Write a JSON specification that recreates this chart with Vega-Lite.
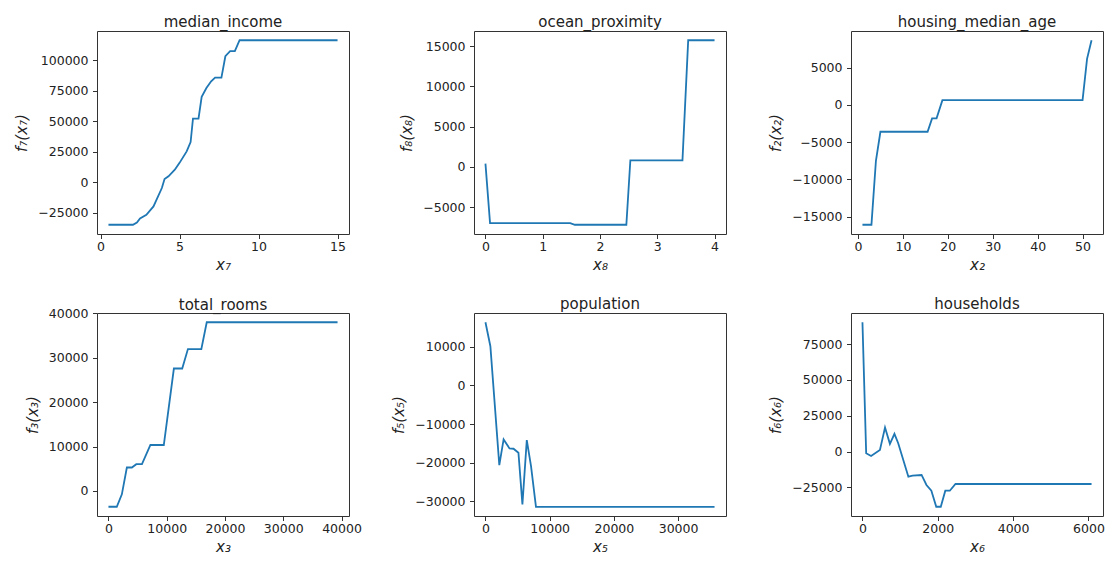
{
  "$schema": "https://vega.github.io/schema/vega-lite/v6.json",
  "padding": {"left": 14, "top": 14, "right": 2, "bottom": 2},
  "background": "white",
  "config": {
    "view": {"stroke": "#333", "strokeWidth": 1},
    "axis": {"grid": false, "domain": false, "tickColor": "#333", "tickSize": 4.5, "tickWidth": 1,
      "labelFont": "DejaVu Sans", "labelFontSize": 12.5, "labelColor": "#222", "labelPadding": 4.5,
      "labelFlush": false, "labelOverlap": false, "format": "d",
      "titleFont": "DejaVu Sans", "titleFontSize": 15, "titleFontStyle": "italic", "titleFontWeight": "normal", "titleColor": "#222"},
    "axisX": {"labelPadding": 2, "titlePadding": 4},
    "axisY": {"titlePadding": 8},
    "title": {"font": "DejaVu Sans", "fontSize": 15, "fontWeight": "normal", "color": "#222", "offset": 1, "anchor": "middle"},
    "line": {"color": "#1f77b4", "strokeWidth": 1.8}
  },
  "columns": 3,
  "spacing": {"row": 79, "column": 125},
  "bounds": "flush",
  "datasets": {
    "median_income": [
      {"x": 0.5, "y": -34700}, {"x": 2.05, "y": -34700}, {"x": 2.3, "y": -32800}, {"x": 2.5, "y": -29500},
      {"x": 2.9, "y": -26500}, {"x": 3.35, "y": -19700}, {"x": 3.88, "y": -4600}, {"x": 4.05, "y": 2700},
      {"x": 4.3, "y": 5000}, {"x": 4.7, "y": 10400}, {"x": 5.0, "y": 16000}, {"x": 5.45, "y": 25400},
      {"x": 5.7, "y": 33000}, {"x": 5.85, "y": 52200}, {"x": 6.2, "y": 52200}, {"x": 6.4, "y": 70000},
      {"x": 6.7, "y": 77300}, {"x": 7.0, "y": 82800}, {"x": 7.25, "y": 85800}, {"x": 7.65, "y": 85800},
      {"x": 7.9, "y": 103300}, {"x": 8.2, "y": 107400}, {"x": 8.5, "y": 107400}, {"x": 8.8, "y": 116400},
      {"x": 15, "y": 116400}
    ],
    "ocean_proximity": [
      {"x": 0, "y": 400}, {"x": 0.08, "y": -7000}, {"x": 1.48, "y": -7000}, {"x": 1.56, "y": -7200},
      {"x": 2.46, "y": -7200}, {"x": 2.53, "y": 820}, {"x": 3.44, "y": 820}, {"x": 3.54, "y": 15750},
      {"x": 4, "y": 15750}
    ],
    "housing_median_age": [
      {"x": 1, "y": -16100}, {"x": 3, "y": -16100}, {"x": 4, "y": -7500}, {"x": 5, "y": -3600},
      {"x": 15.5, "y": -3600}, {"x": 16.5, "y": -1800}, {"x": 17.5, "y": -1800}, {"x": 18.8, "y": 650},
      {"x": 50, "y": 650}, {"x": 51, "y": 6200}, {"x": 52, "y": 8700}
    ],
    "total_rooms": [
      {"x": 0, "y": -3560}, {"x": 1430, "y": -3560}, {"x": 2300, "y": -750}, {"x": 3160, "y": 5290},
      {"x": 4020, "y": 5290}, {"x": 4780, "y": 6040}, {"x": 5750, "y": 6040}, {"x": 7200, "y": 10360},
      {"x": 9500, "y": 10360}, {"x": 11230, "y": 27600}, {"x": 12660, "y": 27600}, {"x": 13640, "y": 31970},
      {"x": 15940, "y": 31970}, {"x": 16870, "y": 38030}, {"x": 39320, "y": 38030}
    ],
    "population": [
      {"x": 3, "y": 16400}, {"x": 770, "y": 10180}, {"x": 2160, "y": -20650}, {"x": 2830, "y": -14000},
      {"x": 3750, "y": -16320}, {"x": 4370, "y": -16400}, {"x": 5140, "y": -17450}, {"x": 5760, "y": -30830},
      {"x": 6440, "y": -14170}, {"x": 7100, "y": -20900}, {"x": 7870, "y": -31450}, {"x": 35682, "y": -31450}
    ],
    "households": [
      {"x": 1, "y": 90200}, {"x": 100, "y": -1190}, {"x": 230, "y": -3030}, {"x": 465, "y": 1180},
      {"x": 600, "y": 16780}, {"x": 730, "y": 5380}, {"x": 850, "y": 12370}, {"x": 950, "y": 5830},
      {"x": 1220, "y": -17480}, {"x": 1330, "y": -16780}, {"x": 1570, "y": -16300}, {"x": 1700, "y": -23290},
      {"x": 1830, "y": -27270}, {"x": 1960, "y": -38460}, {"x": 2080, "y": -38460}, {"x": 2200, "y": -27270},
      {"x": 2320, "y": -27270}, {"x": 2470, "y": -22590}, {"x": 6082, "y": -22590}
    ]
  },
  "concat": [
    {
      "title": "median_income", "width": 252, "height": 203,
      "data": {"name": "median_income"},
      "mark": {"type": "line"},
      "encoding": {
        "x": {"field": "x", "type": "quantitative", "scale": {"domain": [-0.225, 15.725], "nice": false, "zero": false}, "axis": {"values": [0, 5, 10, 15], "title": "x₇"}},
        "y": {"field": "y", "type": "quantitative", "scale": {"domain": [-42255, 123955], "nice": false, "zero": false}, "axis": {"values": [-25000, 0, 25000, 50000, 75000, 100000], "title": "f₇(x₇)"}}
      }
    },
    {
      "title": "ocean_proximity", "width": 252, "height": 203,
      "data": {"name": "ocean_proximity"},
      "mark": {"type": "line"},
      "encoding": {
        "x": {"field": "x", "type": "quantitative", "scale": {"domain": [-0.2, 4.2], "nice": false, "zero": false}, "axis": {"values": [0, 1, 2, 3, 4], "title": "x₈"}},
        "y": {"field": "y", "type": "quantitative", "scale": {"domain": [-8350, 16900], "nice": false, "zero": false}, "axis": {"values": [-5000, 0, 5000, 10000, 15000], "title": "f₈(x₈)"}}
      }
    },
    {
      "title": "housing_median_age", "width": 252, "height": 203,
      "data": {"name": "housing_median_age"},
      "mark": {"type": "line"},
      "encoding": {
        "x": {"field": "x", "type": "quantitative", "scale": {"domain": [-1.55, 54.55], "nice": false, "zero": false}, "axis": {"values": [0, 10, 20, 30, 40, 50], "title": "x₂"}},
        "y": {"field": "y", "type": "quantitative", "scale": {"domain": [-17340, 9940], "nice": false, "zero": false}, "axis": {"values": [-15000, -10000, -5000, 0, 5000], "title": "f₂(x₂)"}}
      }
    },
    {
      "title": {"text": "total_rooms", "offset": -6},
      "width": 252, "height": 203,
      "data": {"name": "total_rooms"},
      "mark": {"type": "line"},
      "encoding": {
        "x": {"field": "x", "type": "quantitative", "scale": {"domain": [-1966, 41286], "nice": false, "zero": false}, "axis": {"values": [0, 10000, 20000, 30000, 40000], "title": "x₃"}},
        "y": {"field": "y", "type": "quantitative", "scale": {"domain": [-5640, 40110], "nice": false, "zero": false}, "axis": {"values": [0, 10000, 20000, 30000, 40000], "title": "f₃(x₃)"}}
      }
    },
    {
      "title": "population", "width": 252, "height": 203,
      "data": {"name": "population"},
      "mark": {"type": "line"},
      "encoding": {
        "x": {"field": "x", "type": "quantitative", "scale": {"domain": [-1781, 37466], "nice": false, "zero": false}, "axis": {"values": [0, 10000, 20000, 30000], "title": "x₅"}},
        "y": {"field": "y", "type": "quantitative", "scale": {"domain": [-33840, 18790], "nice": false, "zero": false}, "axis": {"values": [-30000, -20000, -10000, 0, 10000], "title": "f₅(x₅)"}}
      }
    },
    {
      "title": "households", "width": 252, "height": 203,
      "data": {"name": "households"},
      "mark": {"type": "line"},
      "encoding": {
        "x": {"field": "x", "type": "quantitative", "scale": {"domain": [-303, 6386], "nice": false, "zero": false}, "axis": {"values": [0, 2000, 4000, 6000], "title": "x₆"}},
        "y": {"field": "y", "type": "quantitative", "scale": {"domain": [-44900, 96630], "nice": false, "zero": false}, "axis": {"values": [-25000, 0, 25000, 50000, 75000], "title": "f₆(x₆)"}}
      }
    }
  ]
}
